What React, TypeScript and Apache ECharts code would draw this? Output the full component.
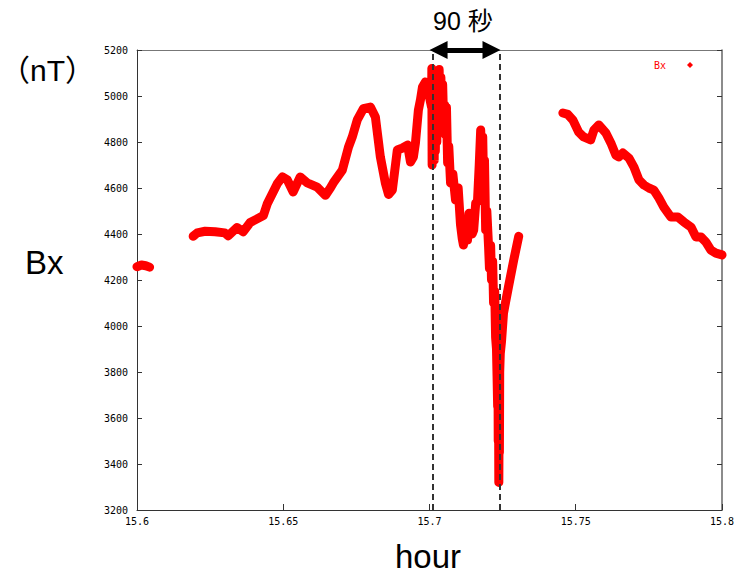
import React, { useEffect, useRef } from "react";
import * as echarts from "echarts";

// hour, Bx (nT)
const segStart: [number, number][] = [
  [15.6, 4258], [15.6015, 4265], [15.603, 4262], [15.6043, 4256],
];

const segMain: [number, number][] = [
  [15.6192, 4390], [15.6206, 4405], [15.6233, 4412], [15.6267, 4410], [15.63, 4405],
  [15.6312, 4392], [15.6342, 4428], [15.6363, 4410], [15.6387, 4450], [15.6432, 4480],
  [15.6445, 4530], [15.648, 4620], [15.6497, 4648], [15.6514, 4635], [15.6534, 4583],
  [15.6558, 4648], [15.6582, 4622], [15.6616, 4604], [15.6644, 4568], [15.6661, 4600],
  [15.6671, 4622], [15.6702, 4678], [15.6723, 4778], [15.6736, 4822], [15.6753, 4896],
  [15.6774, 4945], [15.6798, 4952], [15.6815, 4909], [15.6832, 4735], [15.6849, 4622],
  [15.686, 4572], [15.6873, 4591], [15.689, 4765], [15.6908, 4774], [15.6925, 4787],
  [15.6935, 4713], [15.6945, 4735], [15.6952, 4796], [15.6962, 4939], [15.6969, 4983],
  [15.6976, 5039], [15.6986, 5061], [15.6997, 5013], [15.7007, 4952],
  [15.7008, 5120], [15.7009, 4700], [15.701, 5000], [15.7012, 4750], [15.7014, 5090],
  [15.7016, 4720], [15.7018, 4980], [15.702, 4760], [15.7023, 5110], [15.7025, 4800],
  [15.7027, 5100], [15.703, 4850], [15.7033, 5115], [15.7036, 4900], [15.7039, 5080],
  [15.7042, 4850], [15.7045, 5050], [15.7048, 4900], [15.7052, 4960], [15.7055, 4830],
  [15.7058, 4950], [15.7062, 4709], [15.7066, 4780], [15.7072, 4622], [15.708, 4660],
  [15.7089, 4548], [15.7098, 4600], [15.7106, 4440], [15.7112, 4380], [15.7116, 4352],
  [15.7125, 4420], [15.713, 4374], [15.7135, 4490], [15.714, 4461], [15.7146, 4400],
  [15.7151, 4417], [15.7158, 4535], [15.7164, 4540], [15.717, 4700], [15.7175, 4852],
  [15.7178, 4760], [15.7182, 4822], [15.7185, 4604], [15.7188, 4720], [15.7192, 4417],
  [15.7196, 4500], [15.7202, 4343], [15.7205, 4250], [15.7209, 4350], [15.7212, 4200],
  [15.7216, 4280], [15.7219, 4100], [15.7223, 4150], [15.7226, 3950], [15.7229, 3900],
  [15.7231, 3780], [15.7233, 3650], [15.7234, 3850], [15.7235, 3500], [15.7236, 3700],
  [15.7237, 3320], [15.7238, 3600], [15.7239, 3450], [15.724, 3800], [15.7242, 3880],
  [15.7246, 3930], [15.7253, 4056], [15.727, 4170], [15.7288, 4287], [15.7305, 4390],
];

const segEnd: [number, number][] = [
  [15.7456, 4926], [15.7473, 4920], [15.749, 4896], [15.751, 4843], [15.7527, 4822],
  [15.7551, 4809], [15.7562, 4852], [15.7579, 4874], [15.7603, 4839], [15.762, 4796],
  [15.7637, 4743], [15.7647, 4735], [15.7661, 4752], [15.7682, 4730], [15.7699, 4691],
  [15.7716, 4635], [15.7733, 4613], [15.775, 4600], [15.7767, 4591], [15.7784, 4557],
  [15.7801, 4517], [15.7825, 4474], [15.7849, 4474], [15.787, 4452], [15.7894, 4430],
  [15.7911, 4387], [15.7928, 4387], [15.7945, 4365], [15.7962, 4330], [15.7979, 4317],
  [15.8, 4309],
];

const xMin = 15.6;
const xMax = 15.8;
const xStep = 0.05;
const yMin = 3200;
const yMax = 5200;
const yStep = 200;

// annotation: 90-second window
const windowStart = 15.7012;
const windowEnd = 15.724;
const arrowFrom = 15.7031;
const arrowTo = 15.7212;

const RED = "#ff0000";
const MONO = "DejaVu Sans Mono, monospace";
const SANS = "Liberation Sans, Arial, Noto Sans CJK JP, sans-serif";

export default function App() {
  const ref = useRef<HTMLDivElement>(null);

  useEffect(() => {
    document.body.style.margin = "0";
    if (!ref.current) return;
    const chart = echarts.init(ref.current, undefined, { renderer: "svg" });

    const lineSeries = (data: [number, number][]) => ({
      type: "line",
      name: "Bx",
      data,
      showSymbol: false,
      symbol: "diamond",
      xAxisIndex: 0,
      yAxisIndex: 0,
      lineStyle: { color: RED, width: 9, cap: "round", join: "round" },
      itemStyle: { color: RED },
      silent: true,
    });

    const dashed = { type: [6, 4], color: "#333", width: 2 };

    const option: any = {
      animation: false,
      grid: { left: 137, right: 22, top: 50, bottom: 75 },
      legend: {
        data: ["Bx"],
        right: 46,
        top: 55,
        align: "right",
        icon: "diamond",
        itemWidth: 6,
        itemHeight: 6,
        selectedMode: false,
        textStyle: { color: RED, fontFamily: MONO, fontSize: 10, padding: [0, 16, 0, 0] },
      },
      xAxis: [
        {
          type: "value",
          min: xMin,
          max: xMax,
          interval: xStep,
          position: "bottom",
          axisLine: { onZero: false, lineStyle: { color: "#333", width: 1 } },
          axisTick: { inside: true, length: 6, lineStyle: { color: "#333" } },
          axisLabel: {
            showMinLabel: true,
            showMaxLabel: true,
            margin: 6,
            color: "#000",
            fontFamily: MONO,
            fontSize: 10,
            formatter: (v: number) => String(parseFloat(v.toFixed(2))),
          },
          splitLine: { show: false },
        },
        {
          type: "value",
          min: xMin,
          max: xMax,
          interval: xStep,
          position: "top",
          axisLine: { show: true, onZero: false, lineStyle: { color: "#777", width: 1 } },
          axisTick: { show: false },
          axisLabel: { show: false },
          splitLine: { show: false },
        },
      ],
      yAxis: [
        {
          type: "value",
          min: yMin,
          max: yMax,
          interval: yStep,
          position: "left",
          axisLine: { show: true, onZero: false, lineStyle: { color: "#333", width: 1 } },
          axisTick: { show: true, inside: true, length: 5, lineStyle: { color: "#333" } },
          axisLabel: {
            margin: 9,
            color: "#000",
            fontFamily: MONO,
            fontSize: 10,
            formatter: (v: number) => String(v),
          },
          splitLine: { show: false },
        },
        {
          type: "value",
          min: yMin,
          max: yMax,
          interval: yStep,
          position: "right",
          axisLine: { show: true, onZero: false, lineStyle: { color: "#666", width: 1.5 } },
          axisTick: { show: true, inside: true, length: 5, lineStyle: { color: "#333" } },
          axisLabel: { show: false },
          splitLine: { show: false },
        },
      ],
      series: [
        lineSeries(segStart),
        lineSeries(segMain),
        lineSeries(segEnd),
        {
          type: "line",
          name: "annotation",
          data: [],
          clip: false,
          silent: true,
          markLine: {
            silent: true,
            precision: 6,
            symbol: ["none", "none"],
            label: { show: false },
            emphasis: { disabled: true },
            data: [
              { xAxis: windowStart, lineStyle: dashed },
              { xAxis: windowEnd, lineStyle: dashed },
              [
                {
                  coord: [arrowFrom, yMax],
                  symbol: "triangle",
                  symbolSize: 18,
                  lineStyle: { color: "#000", width: 5, type: "solid" },
                  itemStyle: { color: "#000" },
                },
                { coord: [arrowTo, yMax], symbol: "triangle", symbolSize: 18 },
              ],
            ],
          },
        },
      ],
      graphic: [
        {
          type: "text",
          left: 433,
          top: 8,
          style: { text: "90 秒", fontSize: 25, fontFamily: SANS, fill: "#000" },
        },
        {
          type: "text",
          left: 0,
          top: 55,
          style: { text: "（nT）", fontSize: 30, fontFamily: SANS, fill: "#000" },
        },
        {
          type: "text",
          left: 25,
          top: 246,
          style: { text: "Bx", fontSize: 33, fontFamily: SANS, fill: "#000" },
        },
        {
          type: "text",
          left: 395,
          top: 540,
          style: { text: "hour", fontSize: 33, fontFamily: SANS, fill: "#000" },
        },
      ],
    };

    chart.setOption(option);
    return () => chart.dispose();
  }, []);

  return <div ref={ref} style={{ width: 744, height: 585 }} />;
}
